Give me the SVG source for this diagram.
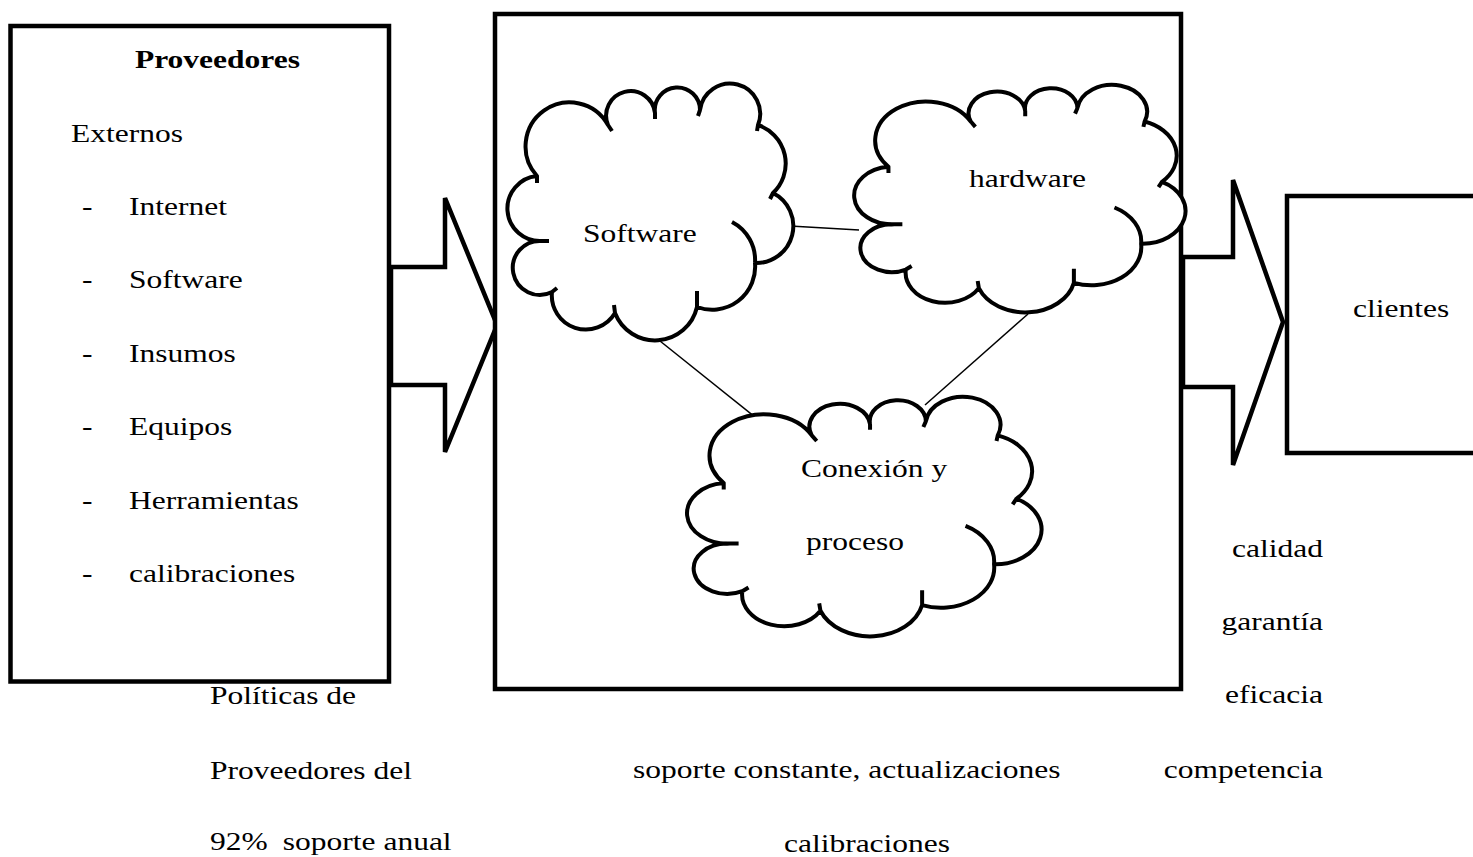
<svg xmlns="http://www.w3.org/2000/svg" xmlns:xlink="http://www.w3.org/1999/xlink" width="1473" height="857" viewBox="0 0 1473 857">
<style>
.box{fill:#fff;stroke:#000;stroke-width:4.5;stroke-linejoin:miter}
.arrow{fill:#fff;stroke:#000;stroke-width:4.5;stroke-linejoin:miter}
.cloud{fill:#fff;stroke:#000;stroke-width:4;vector-effect:non-scaling-stroke;stroke-linejoin:round}
.conn{stroke:#000;stroke-width:1.5;fill:none}
text{font-family:"Liberation Serif","Times New Roman",serif;font-size:26px;fill:#000}
.b{font-weight:bold}
.e{text-anchor:end}
</style>
<defs>
<path id="cloudShape" class="cloud" d="M537,176 A44 44 0 1 1 608,125 A24.5 24.5 0 1 1 655,113 A22.6 22.6 0 1 1 700,110 A30.2 30.2 0 1 1 758,125 A40.6 40.6 0 0 1 773,193 A37 37 0 0 1 755,263 A43 43 0 0 1 697,307 A43 43 0 0 1 615,313 A34 34 0 0 1 552,292 A27 27 0 1 1 542,241 A32.6 32.6 0 0 1 537,176 Z M608,125 L612,131 M655,113 L655,119 M700,110 L698,116 M758,125 L757,131 M773,193 L770,199 M732,222 A43 43 0 0 1 755,263 M697,307 L697,291 M615,313 L614,305 M552,292 L557,288 M542,241 L549,241 M537,176 L537,183"/>
</defs>

<g id="proveedores">
<rect class="box" x="10.5" y="26" width="378.5" height="655.5"/>
</g>

<g id="arrow-in">
<polygon class="arrow" points="391,267 445,267 445,198 497,325 445,452 445,385 391,385"/>
</g>

<g id="sistema">
<rect class="box" x="495" y="14" width="686" height="675"/>
</g>

<g id="arrow-out">
<polygon class="arrow" points="1183,257 1233,257 1233,180 1283,322 1233,465 1233,387 1183,387"/>
</g>

<g id="clientes">
<rect class="box" x="1287" y="196" width="200" height="257"/>
</g>

<g id="connectors">
<line class="conn" x1="790" y1="226" x2="859" y2="230"/>
<line class="conn" x1="660" y1="341" x2="765" y2="425"/>
<line class="conn" x1="1028" y1="314" x2="925" y2="405"/>
</g>

<g id="cloud-software">
<use xlink:href="#cloudShape"/>
</g>
<g id="cloud-hardware">
<use xlink:href="#cloudShape" transform="translate(856,87) scale(1.159,0.886) translate(-509,-86)"/>
</g>
<g id="cloud-conexion">
<use xlink:href="#cloudShape" transform="translate(689,399) scale(1.240,0.933) translate(-509,-86)"/>
</g>

<g id="labels" transform="scale(1.2115,1)">
<text class="b" x="111.4" y="68">Proveedores</text>
<text x="58.6" y="142">Externos</text>
<text x="67.7" y="215">-</text><text x="106.5" y="215">Internet</text>
<text x="67.7" y="288.5">-</text><text x="106.5" y="288.5">Software</text>
<text x="67.7" y="362">-</text><text x="106.5" y="362">Insumos</text>
<text x="67.7" y="435.5">-</text><text x="106.5" y="435.5">Equipos</text>
<text x="67.7" y="509">-</text><text x="106.5" y="509">Herramientas</text>
<text x="67.7" y="582.5">-</text><text x="106.5" y="582.5">calibraciones</text>

<text x="481.2" y="242">Software</text>
<text x="799.8" y="187">hardware</text>
<text x="661.2" y="477">Conexión y</text>
<text x="665.3" y="550">proceso</text>
<text x="1116.8" y="317">clientes</text>

<text x="173.3" y="704">Políticas de</text>
<text x="173.3" y="779">Proveedores del</text>
<text x="173.3" y="850">92%<tspan dx="6"> soporte anual</tspan></text>

<text x="522.5" y="778">soporte constante, actualizaciones</text>
<text x="647.1" y="852">calibraciones</text>

<text class="e" x="1092" y="557">calidad</text>
<text class="e" x="1092" y="630">garantía</text>
<text class="e" x="1092" y="703">eficacia</text>
<text class="e" x="1092" y="778">competencia</text>
</g>
</svg>
